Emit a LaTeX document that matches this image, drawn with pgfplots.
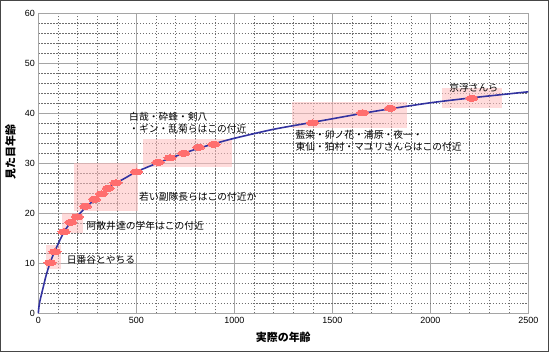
\documentclass[border=0pt]{standalone}
\usepackage{pgfplots}
\pgfplotsset{compat=1.18}
\usepackage{fontspec}
\setmainfont{Liberation Sans}
\newfontfamily\jp{Noto Sans CJK JP}
\definecolor{curve}{RGB}{51,51,160}
\definecolor{mk}{RGB}{255,110,110}
\definecolor{rectc}{RGB}{255,190,190}
\definecolor{gridmaj}{RGB}{165,165,165}
\definecolor{gridmin}{RGB}{110,110,110}
\definecolor{frame}{RGB}{70,70,70}
\begin{document}
\begin{tikzpicture}
\begin{axis}[name=ax, scale only axis, width=490bp, height=300bp,
 xmin=0, xmax=2500, ymin=0, ymax=60,
 xtick={0,500,...,2500}, ytick={0,10,...,60},
 minor x tick num=4, minor y tick num=4,
 grid=both,
 major grid style={gridmaj, line width=1pt},
 minor grid style={gridmin, dash pattern=on 1.5pt off 1.5pt, line width=0.4pt},
 axis line style={gridmaj, line width=1pt},
 tick style={draw=none},
 ticklabel style={font=\fontsize{9}{10}\selectfont},
 /pgf/number format/assume math mode=true,
 /pgf/number format/set thousands separator={},
 xlabel={\jp\bfseries 実際の年齢},
 ylabel={\jp\bfseries 見た目年齢},
 label style={font=\fontsize{11}{12}\selectfont},
 xlabel style={at={(axis description cs:0.5,-0.08)}, anchor=center},
 ylabel style={at={(axis description cs:-0.057,0.538)}, anchor=center, rotate=0},
 clip=false,
]
% shaded ranges
\addplot[draw=none, fill=rectc, fill opacity=0.55] coordinates {(39,8.8) (116,8.8) (116,13.7) (39,13.7)} -- cycle;
\addplot[draw=none, fill=rectc, fill opacity=0.55] coordinates {(122,16.0) (226,16.0) (226,20.0) (122,20.0)} -- cycle;
\addplot[draw=none, fill=rectc, fill opacity=0.55] coordinates {(182,20.5) (509,20.5) (509,30.0) (182,30.0)} -- cycle;
\addplot[draw=none, fill=rectc, fill opacity=0.55] coordinates {(535,29.2) (988,29.2) (988,34.9) (535,34.9)} -- cycle;
\addplot[draw=none, fill=rectc, fill opacity=0.55] coordinates {(1295,37.0) (1881,37.0) (1881,42.3) (1295,42.3)} -- cycle;
\addplot[draw=none, fill=rectc, fill opacity=0.55] coordinates {(2059,41.0) (2365,41.0) (2365,45.1) (2059,45.1)} -- cycle;
% curve
\addplot[curve, line width=1.6pt, smooth, tension=0.4] coordinates {
(0,0) (3,1.2) (8,2.4) (15,3.6) (25,5.2) (40,7.6) (60,10.1) (85,12.5) (130,16.2)
(166,18.2) (200,19.5) (240,21.1) (287,22.7) (323,23.9) (357,25.0) (396,26.0)
(450,27.2) (500,28.3) (611,30.1) (672,31.0) (742,32.0) (818,33.0) (896,33.9)
(1000,35.0) (1200,36.8) (1400,38.2) (1500,38.9) (1655,40.0) (1796,40.9)
(2000,42.1) (2212,43.1) (2500,44.3)};
% markers
\addplot[mk, only marks, mark=*, mark size=2.9bp, mark options={xscale=2.1, fill=mk, draw=mk, line width=0pt}] coordinates {
(60,10.1) (85,12.3) (131,16.3) (166,18.2) (199,19.3) (241,21.4) (287,22.8) (323,23.9)
(357,25.0) (396,26.1) (501,28.3) (611,30.2) (672,31.1) (742,32.0) (818,33.2) (896,33.8)
(1400,38.1) (1655,40.1) (1796,41.0) (2212,43.0)};
% annotations
\begin{scope}[every node/.style={font=\jp\fontsize{9.8}{11.4}\selectfont, inner sep=0pt, anchor=west, align=left}]
\node at (axis cs:145,10.7) {日番谷とやちる};
\node at (axis cs:246,17.5) {阿散井達の学年はこの付近};
\node at (axis cs:514,23.3) {若い副隊長らはこの付近か};
\node at (axis cs:463,38.1) {白哉・砕蜂・剣八\\・ギン・乱菊らはこの付近};
\node at (axis cs:1312,34.5) {藍染・卯ノ花・浦原・夜一・\\東仙・狛村・マユリさんらはこの付近};
\node at (axis cs:2096,45.1) {京浮さんら};
\end{scope}
\end{axis}
\draw[frame, line width=1.3bp] ([xshift=-37.65bp,yshift=-38.05bp]ax.south west) rectangle ([xshift=20.05bp,yshift=12.65bp]ax.north east);
\end{tikzpicture}
\end{document}
